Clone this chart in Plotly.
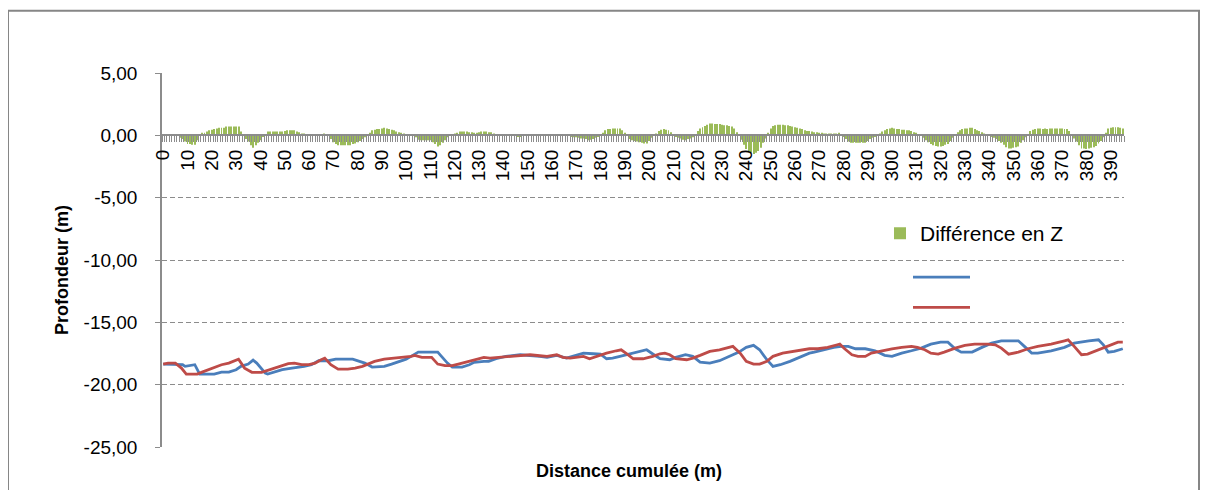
import plotly.graph_objects as go

# --- données -------------------------------------------------------------
# profil 1 (bleu) : sommets (distance m, profondeur m)
blue_x = [0, 8, 9, 12, 13, 15, 21, 24, 27, 30, 32, 35, 37, 38.5, 42, 43, 46, 49, 53, 56,
          58, 61, 64, 68, 71, 78, 80, 83, 86, 89, 91, 94, 97, 100, 102, 105, 113, 114.5, 117, 119,
          123, 126, 128, 132, 134, 137, 141, 147, 151, 155, 158, 162, 166, 170, 173, 177, 180, 182.5, 185, 188,
          192, 196, 199, 202, 204.5, 208.5, 211, 215, 218, 221, 225, 229, 233, 237, 240, 243, 245.5, 248.5, 251, 254,
          258, 262, 266, 268, 272, 276, 279, 282, 285, 289, 293, 297, 300, 304, 308, 312, 316, 320, 323, 326,
          328.5, 333, 337, 341, 345, 352, 354.5, 357.5, 360, 365.5, 371, 375, 381, 385, 387, 389, 391.5, 395]
blue_z = [-18.35, -18.40, -18.53, -18.40, -18.40, -19.15, -19.15, -18.99, -18.99, -18.80, -18.53, -18.35, -18.03, -18.27, -19.07, -19.15, -18.99, -18.80, -18.67, -18.61,
          -18.53, -18.40, -18.08, -18.08, -17.95, -17.95, -18.08, -18.27, -18.59, -18.59, -18.53, -18.35, -18.13, -17.95, -17.73, -17.39, -17.39, -17.73, -18.27, -18.59,
          -18.59, -18.40, -18.21, -18.13, -18.13, -17.92, -17.73, -17.60, -17.65, -17.73, -17.81, -17.65, -17.87, -17.65, -17.47, -17.52, -17.55, -17.92, -17.87, -17.73,
          -17.55, -17.39, -17.20, -17.60, -17.92, -18.00, -17.81, -17.60, -17.73, -18.19, -18.27, -18.08, -17.73, -17.39, -17.01, -16.85, -17.20, -18.00, -18.53, -18.40,
          -18.13, -17.81, -17.47, -17.39, -17.20, -17.01, -16.93, -16.93, -17.12, -17.12, -17.28, -17.65, -17.73, -17.47, -17.28, -17.07, -16.75, -16.59, -16.59, -17.12,
          -17.39, -17.39, -17.01, -16.67, -16.48, -16.48, -16.93, -17.47, -17.47, -17.28, -17.01, -16.67, -16.48, -16.40, -16.80, -17.39, -17.33, -17.12]

# profil 2 (rouge)
red_x = [0, 2, 5, 7.5, 9.5, 14, 16, 18.5, 21, 24, 27, 29.5, 31, 33.5, 36.5, 40.5, 43, 46, 49, 51.5,
         54, 57, 60, 62.5, 65, 66.5, 69, 72, 76, 79, 82, 84.5, 87, 91, 95.5, 99.5, 102, 103.5, 106.5, 110.5,
         113, 116, 119, 121.5, 125.5, 128, 132, 134.5, 138.5, 144, 148, 151, 155, 158, 162, 164.5, 167.5, 170, 173, 175.5,
         178.5, 182.5, 186.5, 188.5, 191, 193.5, 197.5, 201.5, 204.5, 206.5, 208.5, 211, 215.5, 218, 221, 225, 229, 233, 234.5, 237.5,
         240, 243, 245.5, 248.5, 251, 255, 260.5, 266, 269.5, 273.5, 277.5, 278.5, 280.5, 283.5, 286, 289, 291.5, 295.5, 300, 304,
         308, 310.5, 313.5, 316, 319, 321.5, 326, 330, 334, 339.5, 342.5, 345, 348, 352, 356, 360, 365.5, 371, 372.5, 375,
         378, 380.5, 385, 389, 393, 395]
red_z = [-18.35, -18.27, -18.27, -18.67, -19.15, -19.15, -18.99, -18.80, -18.61, -18.40, -18.27, -18.08, -17.95, -18.67, -19.01, -19.01, -18.85, -18.67, -18.48, -18.32,
         -18.27, -18.40, -18.40, -18.27, -18.00, -17.87, -18.40, -18.75, -18.75, -18.67, -18.53, -18.35, -18.13, -17.95, -17.87, -17.81, -17.73, -17.65, -17.81, -17.81,
         -18.35, -18.48, -18.48, -18.35, -18.13, -18.00, -17.81, -17.87, -17.81, -17.73, -17.68, -17.60, -17.68, -17.73, -17.60, -17.81, -17.87, -17.81, -17.73, -17.92,
         -17.73, -17.47, -17.28, -17.20, -17.55, -17.92, -17.92, -17.73, -17.52, -17.47, -17.60, -17.92, -18.00, -17.87, -17.65, -17.33, -17.20, -17.01, -16.93, -17.47,
         -18.13, -18.35, -18.35, -18.13, -17.73, -17.47, -17.28, -17.12, -17.12, -17.01, -16.80, -16.75, -17.12, -17.60, -17.73, -17.73, -17.47, -17.28, -17.12, -17.01,
         -16.93, -17.01, -17.20, -17.47, -17.55, -17.39, -17.07, -16.85, -16.75, -16.75, -16.80, -17.07, -17.55, -17.39, -17.12, -16.93, -16.75, -16.48, -16.40, -16.93,
         -17.60, -17.55, -17.20, -16.85, -16.59, -16.59]

# différence en Z, un point par mètre (0 à 395 m)
distance = list(range(0, 396))
diff_z = [0.0, 0.05, 0.1, 0.1, 0.1, 0.1, 0.0, -0.2, -0.3, -0.5,
          -0.7, -0.7, -0.75, -0.75, -0.4, 0.0, 0.2, 0.2, 0.3, 0.4,
          0.45, 0.5, 0.55, 0.6, 0.6, 0.6, 0.7, 0.7, 0.7, 0.7,
          0.7, 0.7, 0.3, 0.0, -0.3, -0.5, -0.8, -1.0, -0.8, -0.6,
          -0.4, -0.1, 0.1, 0.3, 0.3, 0.3, 0.3, 0.3, 0.3, 0.3,
          0.35, 0.4, 0.4, 0.4, 0.4, 0.3, 0.25, 0.15, 0.15, 0.1,
          0.1, 0.1, 0.0, 0.0, 0.0, 0.1, 0.15, 0.1, 0.0, -0.3,
          -0.55, -0.7, -0.8, -0.8, -0.8, -0.8, -0.8, -0.8, -0.7, -0.65,
          -0.55, -0.45, -0.3, -0.15, 0.0, 0.2, 0.4, 0.45, 0.5, 0.5,
          0.55, 0.6, 0.55, 0.5, 0.45, 0.4, 0.3, 0.25, 0.2, 0.15,
          0.1, 0.05, 0.0, -0.05, -0.15, -0.35, -0.4, -0.4, -0.4, -0.4,
          -0.4, -0.55, -0.7, -0.9, -0.8, -0.6, -0.4, -0.15, 0.0, 0.1,
          0.15, 0.2, 0.3, 0.3, 0.3, 0.3, 0.25, 0.25, 0.2, 0.2,
          0.25, 0.3, 0.3, 0.3, 0.25, 0.25, 0.15, 0.1, 0.05, 0.05,
          0.0, 0.0, 0.0, 0.0, -0.05, -0.05, -0.1, -0.1, -0.05, 0.0,
          0.0, 0.05, 0.05, 0.05, 0.05, 0.05, 0.05, 0.05, 0.1, 0.1,
          0.05, 0.05, 0.05, 0.05, 0.0, 0.0, 0.0, -0.05, -0.1, -0.15,
          -0.15, -0.2, -0.25, -0.25, -0.3, -0.4, -0.35, -0.3, -0.2, -0.1,
          0.0, 0.2, 0.4, 0.5, 0.5, 0.55, 0.55, 0.55, 0.55, 0.4,
          0.2, -0.05, -0.3, -0.4, -0.45, -0.5, -0.55, -0.6, -0.65, -0.65,
          -0.45, -0.2, -0.05, 0.15, 0.35, 0.45, 0.5, 0.45, 0.4, 0.25,
          0.05, -0.1, -0.2, -0.25, -0.35, -0.4, -0.3, -0.25, -0.15, 0.1,
          0.35, 0.55, 0.65, 0.75, 0.85, 0.95, 0.95, 0.9, 0.9, 0.9,
          0.85, 0.8, 0.8, 0.75, 0.7, 0.55, 0.25, 0.0, -0.35, -0.75,
          -1.1, -1.25, -1.4, -1.5, -1.4, -1.25, -1.0, -0.6, -0.25, 0.2,
          0.55, 0.75, 0.8, 0.85, 0.85, 0.85, 0.8, 0.8, 0.75, 0.7,
          0.65, 0.6, 0.55, 0.5, 0.4, 0.35, 0.35, 0.3, 0.25, 0.25,
          0.2, 0.2, 0.15, 0.15, 0.15, 0.15, 0.15, 0.15, 0.2, 0.1,
          -0.1, -0.3, -0.5, -0.6, -0.6, -0.6, -0.6, -0.6, -0.6, -0.6,
          -0.45, -0.3, -0.2, -0.1, 0.0, 0.15, 0.3, 0.4, 0.5, 0.55,
          0.6, 0.55, 0.5, 0.5, 0.45, 0.45, 0.4, 0.4, 0.35, 0.25,
          0.2, 0.05, -0.05, -0.2, -0.4, -0.55, -0.7, -0.8, -0.85, -0.9,
          -0.9, -0.85, -0.75, -0.7, -0.45, -0.2, 0.1, 0.25, 0.4, 0.5,
          0.55, 0.55, 0.6, 0.6, 0.5, 0.4, 0.35, 0.25, 0.15, 0.1,
          0.0, -0.1, -0.2, -0.3, -0.45, -0.6, -0.75, -0.95, -1.05, -1.05,
          -1.0, -0.95, -0.9, -0.6, -0.4, -0.15, 0.1, 0.35, 0.45, 0.5,
          0.55, 0.55, 0.5, 0.55, 0.5, 0.55, 0.55, 0.55, 0.55, 0.55,
          0.55, 0.5, 0.5, 0.35, 0.0, -0.25, -0.5, -0.8, -1.05, -1.05,
          -1.1, -1.05, -1.0, -0.95, -0.85, -0.65, -0.45, -0.15, 0.2, 0.55,
          0.6, 0.65, 0.65, 0.65, 0.6, 0.55]

x_ticks = list(range(0, 400, 10))
y_ticks = [5, 0, -5, -10, -15, -20, -25]
y_ticktext = ["5,00", "0,00", "-5,00", "-10,00", "-15,00", "-20,00", "-25,00"]

GREEN = "#9BBB59"
BLUE = "#4A7EBB"
RED = "#BE4B48"
GRID = "#8C8C8C"
FONT = "Liberation Sans, Arial, sans-serif"

# zone de tracé : 962 x 375 px ; la page ajoute 8 px de marge autour de la figure
PW, PH = 962, 375
L, T = 154, 64.5


def px_x(p):
    return (p - 8 - L) / PW


def px_y(p):
    return (T + PH - (p - 8)) / PH


fig = go.Figure()
fig.add_trace(go.Bar(x=distance, y=diff_z, name="Différence en Z", marker_color=GREEN,
                     marker_line_width=0, legend="legend", showlegend=True))
fig.add_trace(go.Scatter(x=blue_x, y=blue_z, mode="lines", name=" ", showlegend=True,
                         line=dict(color=BLUE, width=2.8), legend="legend2"))
fig.add_trace(go.Scatter(x=red_x, y=red_z, mode="lines", name=" ", showlegend=True,
                         line=dict(color=RED, width=2.8), legend="legend2"))

fig.update_layout(
    width=1200, height=482,
    margin=dict(l=L, r=1200 - L - PW, t=T, b=482 - T - PH),
    plot_bgcolor="white", paper_bgcolor="white",
    font=dict(family=FONT, size=19, color="#000000"),
    bargap=0.6,
    showlegend=True,
    legend=dict(x=px_x(880), y=px_y(213), xanchor="left", yanchor="top",
                bgcolor="rgba(0,0,0,0)", font=dict(size=21), itemwidth=30),
    legend2=dict(x=px_x(908), y=px_y(257), xanchor="left", yanchor="top",
                 bgcolor="rgba(0,0,0,0)", font=dict(size=21), itemwidth=57),
    xaxis=dict(range=[-0.5, 395.5], anchor="free", position=25 / 30,
               showline=True, linecolor=GRID, linewidth=1.5,
               showgrid=False, zeroline=False,
               tickmode="array", tickvals=x_ticks, tickangle=-90, ticks="",
               ticklabelstandoff=6,
               minor=dict(ticks="outside", tick0=0.5, dtick=1, ticklen=6,
                          tickcolor=GRID, tickwidth=1, showgrid=False)),
    yaxis=dict(range=[-25, 5], tickmode="array", tickvals=y_ticks, ticktext=y_ticktext,
               showline=True, linecolor=GRID, linewidth=1.5,
               ticks="outside", ticklen=5, tickcolor=GRID, ticklabelstandoff=14,
               showgrid=True, gridcolor=GRID, griddash="5px,3px", gridwidth=1,
               zeroline=False),
    shapes=[dict(type="rect", xref="paper", yref="paper",
                 x0=px_x(8), x1=px_x(1199), y0=px_y(500), y1=px_y(10),
                 line=dict(color="#868686", width=2), fillcolor="rgba(0,0,0,0)",
                 layer="below")],
    annotations=[
        dict(text="<b>Distance cumulée (m)</b>", xref="paper", yref="paper",
             x=px_x(629), y=px_y(472), showarrow=False,
             xanchor="center", yanchor="middle", font=dict(size=18)),
        dict(text="<b>Profondeur (m)</b>", xref="paper", yref="paper",
             x=px_x(62), y=px_y(270), showarrow=False,
             textangle=-90, xanchor="center", yanchor="middle", font=dict(size=18)),
    ],
)

fig.write_html("out.html")
